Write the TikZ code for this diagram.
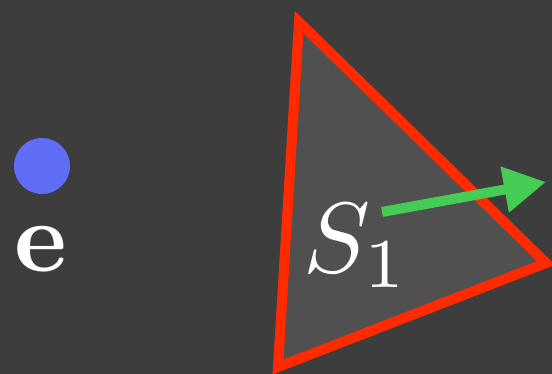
\documentclass[tikz,border=0pt]{standalone}
\usetikzlibrary{arrows.meta}
\definecolor{bg}{HTML}{3D3D3D}
\definecolor{tri}{HTML}{505050}
\definecolor{edge}{HTML}{FF2A00}
\definecolor{arr}{HTML}{44CC55}
\definecolor{dot}{HTML}{5F6EF5}
\tikzset{
  lbl/.style={text=white, inner sep=0pt, scale=10},
  tribox/.style={draw=edge, fill=tri, line width=10pt, line join=miter},
  vec/.style={draw=arr, line width=10pt, -{Triangle[length=42pt,width=44pt]}}
}
\begin{document}
\begin{tikzpicture}[x=1pt,y=-1pt]
\fill[bg] (0,0) rectangle (552,374);
\useasboundingbox (0,0) rectangle (552,374);
\fill[dot] (42,166) circle (28);
\node[lbl, anchor=base] (e) at (41,272) {$\mathbf{e}$};
\coordinate (t1) at (299,22);
\coordinate (t2) at (546,263);
\coordinate (t3) at (278,367);
\path[tribox] (t1) -- (t2) -- (t3) -- cycle;
\node[lbl, anchor=base west] (s) at (301,273) {$S_1$};
\coordinate (a0) at (382,212);
\coordinate (a1) at (546,182);
\draw[vec] (a0) -- (a1);
\end{tikzpicture}
\end{document}
